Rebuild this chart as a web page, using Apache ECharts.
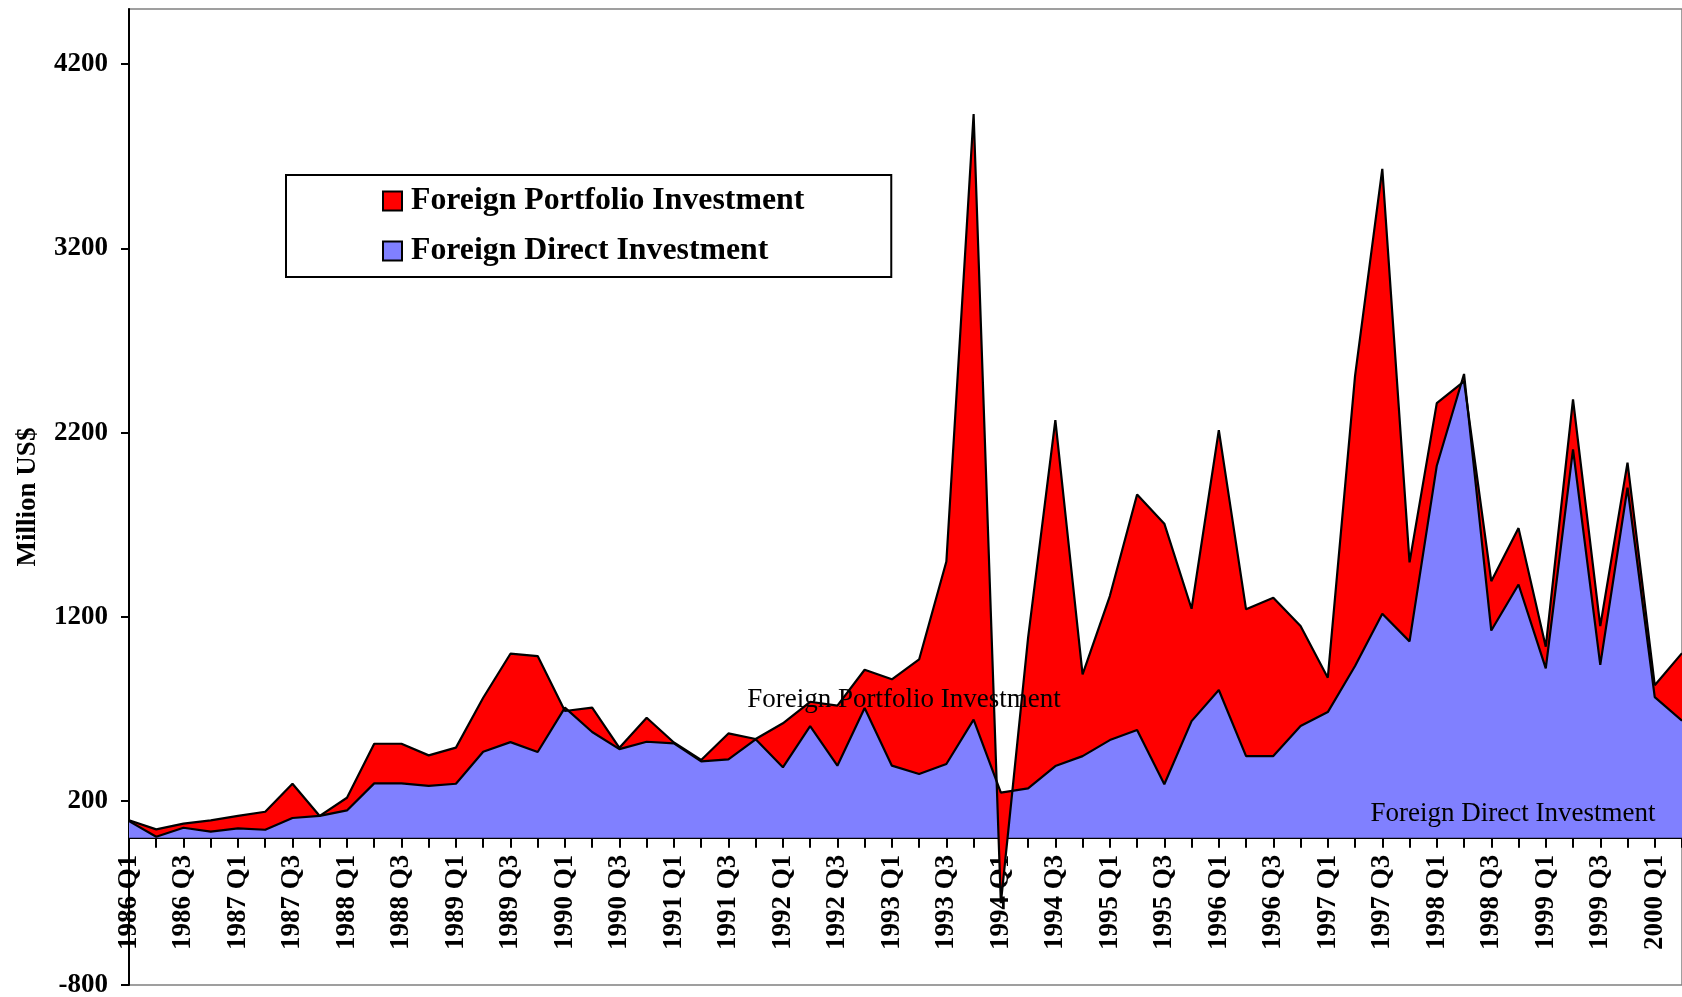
<!DOCTYPE html>
<html>
<head>
<meta charset="utf-8">
<script src="https://cdn.jsdelivr.net/npm/echarts@6/dist/echarts.min.js"></script>
<style>
  html, body { margin: 0; padding: 0; background: #fff; }
  #chart { width: 1682px; height: 997px; }
</style>
</head>
<body>
<div id="chart"></div>
<script>
  // quarters on the category axis
  const quarters = [
    '1986 Q1', '1986 Q2', '1986 Q3', '1986 Q4', '1987 Q1', '1987 Q2', '1987 Q3', '1987 Q4',
    '1988 Q1', '1988 Q2', '1988 Q3', '1988 Q4', '1989 Q1', '1989 Q2', '1989 Q3', '1989 Q4',
    '1990 Q1', '1990 Q2', '1990 Q3', '1990 Q4', '1991 Q1', '1991 Q2', '1991 Q3', '1991 Q4',
    '1992 Q1', '1992 Q2', '1992 Q3', '1992 Q4', '1993 Q1', '1993 Q2', '1993 Q3', '1993 Q4',
    '1994 Q1', '1994 Q2', '1994 Q3', '1994 Q4', '1995 Q1', '1995 Q2', '1995 Q3', '1995 Q4',
    '1996 Q1', '1996 Q2', '1996 Q3', '1996 Q4', '1997 Q1', '1997 Q2', '1997 Q3', '1997 Q4',
    '1998 Q1', '1998 Q2', '1998 Q3', '1998 Q4', '1999 Q1', '1999 Q2', '1999 Q3', '1999 Q4',
    '2000 Q1', '2000 Q2'
  ];
  // Foreign Direct Investment (million US$)
  const fdi = [
    90, 5, 54, 33, 51, 43, 107, 118, 148, 295, 295, 281, 293, 467, 519, 465,
    706, 574, 481, 521, 512, 414, 425, 534, 382, 606, 391, 704, 391, 346, 400, 641,
    245, 268, 389, 443, 530, 585, 290, 633, 802, 443, 443, 606, 682, 932, 1216, 1066,
    2020, 2518, 1125, 1375, 919, 2109, 938, 1901, 763, 635
  ];
  // Foreign Portfolio Investment (million US$), stacked on FDI
  const fpi = [
    5, 40, 22, 61, 67, 98, 186, 0, 69, 215, 215, 166, 196, 293, 480, 521,
    -18, 132, 7, 130, 5, 8, 141, 2, 239, 132, 326, 208, 469, 622, 1100, 3289,
    -601, 818, 1878, 444, 782, 1279, 1415, 610, 1411, 797, 860, 543, 187, 1576, 2416, 429,
    340, -40, 268, 306, 118, 271, 211, 136, 65, 367
  ];
  const yTicks = [-800, 200, 1200, 2200, 3200, 4200];

  const FONT = '"Liberation Serif", "Times New Roman", serif';
  const myChart = echarts.init(document.getElementById('chart'));

  const option = {
    animation: false,
    backgroundColor: '#fff',
    grid: [
      //main plot area
      {
        left: 129, right: 0, top: 9, bottom: 12, outerBoundsMode: 'none',
        show: true, borderColor: '#808080', borderWidth: 1.5
      },
      //same area cut at the zero line, only used to carry the category labels
      { left: 129, right: 0, top: 9, bottom: 159.3, outerBoundsMode: 'none' }
    ],
    legend: {
      orient: 'vertical',
      left: 286,
      top: 175,
      data: ['Foreign Portfolio Investment', 'Foreign Direct Investment'],
      icon: 'rect',
      itemWidth: 19,
      itemHeight: 19,
      itemGap: 18,
      padding: [10, 87, 10, 96],
      borderColor: '#000',
      borderWidth: 2,
      itemStyle: { borderColor: '#000', borderWidth: 2 },
      textStyle: { fontFamily: FONT, fontSize: 31.8, fontWeight: 'bold', color: '#000', padding: [0, 0, 0, 4] }
    },
    xAxis: [
      {
        gridIndex: 0,
        type: 'category',
        boundaryGap: false,
        data: quarters,
        axisLine: { show: false },
        axisTick: { show: false },
        axisLabel: { show: false },
        splitLine: { show: false }
      },
      {
        gridIndex: 1,
        type: 'category',
        boundaryGap: false,
        data: quarters,
        axisLine: { onZero: false, lineStyle: { color: '#000', width: 2 } },
        axisTick: { interval: 0, length: 10, lineStyle: { color: '#000', width: 2 } },
        axisLabel: {
          interval: 1, rotate: 90, margin: 17,
          fontFamily: FONT, fontSize: 27, fontWeight: 'bold', color: '#000'
        },
        splitLine: { show: false }
      }
    ],
    yAxis: [
      {
        gridIndex: 0,
        type: 'value',
        min: -800,
        max: 4500,
        name: 'Million US$',
        nameLocation: 'middle',
        nameGap: 87,
        nameTextStyle: { fontFamily: FONT, fontSize: 27, fontWeight: 'bold', color: '#000' },
        axisLine: { show: true, lineStyle: { color: '#000', width: 2 } },
        axisTick: { show: true, length: 8, customValues: yTicks, lineStyle: { color: '#000', width: 2 } },
        axisLabel: {
          margin: 21, customValues: yTicks,
          formatter: function (v) { return String(v); },
          fontFamily: FONT, fontSize: 27, fontWeight: 'bold', color: '#000'
        },
        splitLine: { show: false }
      },
      { gridIndex: 1, type: 'value', min: 0, max: 1, show: false }
    ],
    series: [
      {
        name: 'Foreign Direct Investment',
        type: 'line',
        stack: 'total',
        stackStrategy: 'all',
        data: fdi,
        symbol: 'none',
        itemStyle: { color: '#8080FF' },
        lineStyle: { color: '#000', width: 2.2 },
        areaStyle: { color: '#8080FF', opacity: 1 }
      },
      {
        name: 'Foreign Portfolio Investment',
        type: 'line',
        stack: 'total',
        stackStrategy: 'all',
        data: fpi,
        symbol: 'none',
        itemStyle: { color: '#FF0000' },
        lineStyle: { color: '#000', width: 2.2 },
        areaStyle: { color: '#FF0000', opacity: 1 }
      }
    ],
    graphic: [
      {
        type: 'text', z: 100, x: 904, y: 700,
        style: {
          text: 'Foreign Portfolio Investment', font: '27px ' + FONT, fill: '#000',
          textAlign: 'center', textVerticalAlign: 'middle', align: 'center', verticalAlign: 'middle'
        }
      },
      {
        type: 'text', z: 100, x: 1513, y: 814,
        style: {
          text: 'Foreign Direct Investment', font: '27px ' + FONT, fill: '#000',
          textAlign: 'center', textVerticalAlign: 'middle', align: 'center', verticalAlign: 'middle'
        }
      }
    ]
  };
  myChart.setOption(option);
</script>
</body>
</html>
